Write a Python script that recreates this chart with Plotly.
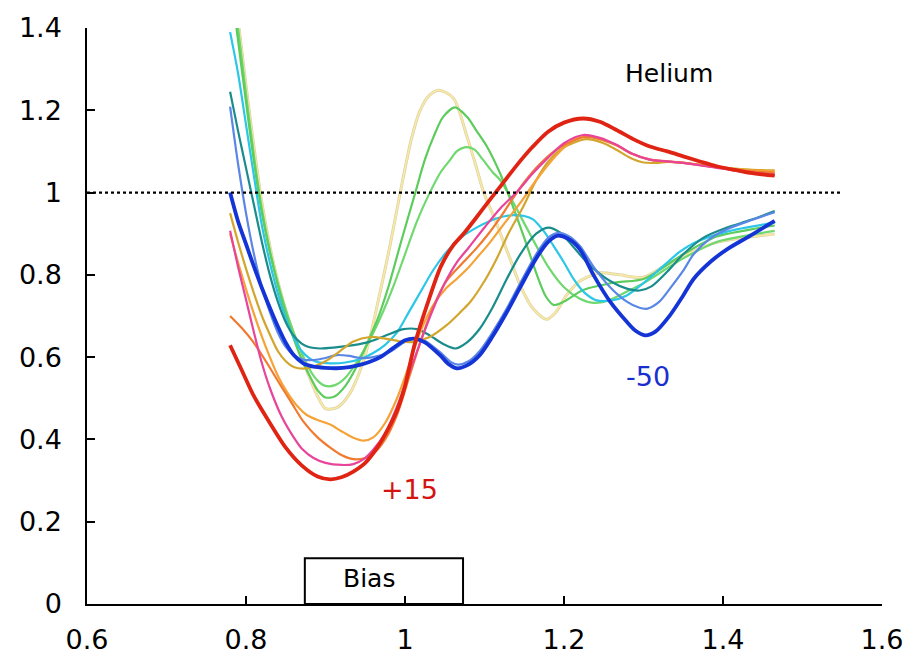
import plotly.graph_objects as go

# ---- data ----
red_x = [0.78, 0.795, 0.81, 0.83, 0.85, 0.87, 0.89, 0.906, 0.92, 0.935, 0.95, 0.965, 0.98, 0.99, 1.0, 1.012, 1.03, 1.045, 1.06, 1.075, 1.09, 1.105, 1.12, 1.14, 1.16, 1.18, 1.2, 1.224, 1.245, 1.266, 1.287, 1.308, 1.33, 1.35, 1.372, 1.392, 1.415, 1.434, 1.465]
red_y = [0.629, 0.567, 0.505, 0.44, 0.38, 0.337, 0.31, 0.303, 0.308, 0.322, 0.343, 0.38, 0.43, 0.47, 0.53, 0.63, 0.74, 0.82, 0.87, 0.903, 0.94, 0.978, 1.015, 1.065, 1.11, 1.148, 1.17, 1.18, 1.172, 1.152, 1.13, 1.112, 1.1, 1.088, 1.075, 1.064, 1.055, 1.048, 1.041]

pink_x = [0.78, 0.79, 0.80, 0.81, 0.82, 0.83, 0.845, 0.86, 0.87, 0.885, 0.90, 0.92, 0.935, 0.948, 0.96, 0.975, 0.99, 1.005, 1.02, 1.035, 1.05, 1.065, 1.08, 1.10, 1.12, 1.14, 1.16, 1.18, 1.2, 1.224, 1.245, 1.266, 1.285, 1.308, 1.33, 1.35, 1.392, 1.434, 1.465]
pink_y = [0.907, 0.82, 0.74, 0.66, 0.585, 0.525, 0.455, 0.405, 0.378, 0.355, 0.343, 0.338, 0.34, 0.352, 0.375, 0.415, 0.48, 0.56, 0.64, 0.715, 0.78, 0.83, 0.866, 0.915, 0.962, 1.0, 1.045, 1.085, 1.12, 1.14, 1.133, 1.116, 1.095, 1.08, 1.076, 1.072, 1.06, 1.049, 1.043]

dorange_x = [0.78, 0.795, 0.809, 0.825, 0.843, 0.857, 0.872, 0.89, 0.906, 0.92, 0.935, 0.95, 0.96, 0.975, 0.99, 1.005, 1.02, 1.035, 1.052, 1.073, 1.09, 1.103, 1.12, 1.132, 1.15, 1.17, 1.195, 1.226, 1.245, 1.266, 1.285, 1.308, 1.33, 1.35, 1.392, 1.434, 1.465]
dorange_y = [0.70, 0.67, 0.637, 0.59, 0.533, 0.49, 0.444, 0.405, 0.38, 0.362, 0.352, 0.355, 0.365, 0.40, 0.46, 0.55, 0.64, 0.72, 0.785, 0.83, 0.865, 0.895, 0.94, 0.975, 1.025, 1.07, 1.11, 1.135, 1.13, 1.115, 1.095, 1.08, 1.075, 1.072, 1.062, 1.052, 1.048]

lorange_x = [0.78, 0.79, 0.80, 0.81, 0.82, 0.83, 0.84, 0.851, 0.865, 0.876, 0.89, 0.906, 0.92, 0.935, 0.948, 0.96, 0.975, 0.99, 1.005, 1.019, 1.035, 1.052, 1.065, 1.078, 1.092, 1.107, 1.125, 1.145, 1.165, 1.19, 1.21, 1.226, 1.245, 1.266, 1.285, 1.308, 1.33, 1.35, 1.392, 1.434, 1.465]
lorange_y = [0.90, 0.83, 0.765, 0.705, 0.65, 0.60, 0.555, 0.517, 0.48, 0.46, 0.447, 0.436, 0.42, 0.404, 0.397, 0.405, 0.44, 0.50, 0.58, 0.66, 0.725, 0.768, 0.79, 0.814, 0.845, 0.879, 0.925, 0.975, 1.03, 1.09, 1.125, 1.137, 1.13, 1.115, 1.095, 1.08, 1.075, 1.072, 1.062, 1.054, 1.052]

gold_x = [0.78, 0.79, 0.80, 0.81, 0.82, 0.83, 0.84, 0.85, 0.86, 0.872, 0.885, 0.90, 0.915, 0.935, 0.956, 0.975, 0.995, 1.01, 1.031, 1.052, 1.07, 1.082, 1.10, 1.115, 1.13, 1.149, 1.165, 1.18, 1.20, 1.228, 1.25, 1.266, 1.285, 1.30, 1.315, 1.335, 1.36, 1.392, 1.434, 1.465]
gold_y = [0.95, 0.88, 0.815, 0.755, 0.70, 0.655, 0.615, 0.59, 0.576, 0.572, 0.577, 0.59, 0.61, 0.638, 0.649, 0.645, 0.638, 0.637, 0.649, 0.677, 0.71, 0.734, 0.785, 0.838, 0.90, 0.967, 1.03, 1.075, 1.11, 1.13, 1.12, 1.104, 1.083, 1.073, 1.072, 1.075, 1.07, 1.062, 1.056, 1.054]

blue_x = [0.78, 0.79, 0.80, 0.81, 0.82, 0.83, 0.84, 0.85, 0.86, 0.872, 0.885, 0.90, 0.914, 0.93, 0.943, 0.955, 0.969, 0.985, 1.0, 1.012, 1.025, 1.044, 1.055, 1.065, 1.078, 1.094, 1.11, 1.128, 1.145, 1.165, 1.18, 1.191, 1.205, 1.22, 1.237, 1.258, 1.279, 1.29, 1.302, 1.315, 1.333, 1.35, 1.363, 1.385, 1.405, 1.434, 1.465]
blue_y = [1.0, 0.93, 0.875, 0.82, 0.768, 0.72, 0.675, 0.635, 0.605, 0.585, 0.577, 0.574, 0.573, 0.576, 0.581, 0.588, 0.60, 0.622, 0.641, 0.645, 0.636, 0.605, 0.583, 0.573, 0.58, 0.605, 0.65, 0.709, 0.77, 0.84, 0.88, 0.895, 0.888, 0.862, 0.80, 0.735, 0.686, 0.664, 0.653, 0.662, 0.701, 0.75, 0.79, 0.833, 0.862, 0.895, 0.931]

cfblue_x = [0.78, 0.79, 0.80, 0.81, 0.82, 0.83, 0.84, 0.85, 0.86, 0.872, 0.885, 0.90, 0.914, 0.93, 0.943, 0.96, 0.98, 0.998, 1.012, 1.025, 1.044, 1.058, 1.067, 1.08, 1.094, 1.11, 1.128, 1.145, 1.165, 1.18, 1.193, 1.205, 1.22, 1.237, 1.258, 1.279, 1.295, 1.305, 1.32, 1.333, 1.35, 1.363, 1.385, 1.405, 1.434, 1.465]
cfblue_y = [1.209, 1.07, 0.95, 0.85, 0.77, 0.71, 0.66, 0.625, 0.605, 0.594, 0.593, 0.598, 0.605, 0.603, 0.598, 0.60, 0.612, 0.635, 0.646, 0.64, 0.612, 0.588, 0.582, 0.59, 0.615, 0.66, 0.718, 0.78, 0.85, 0.89, 0.902, 0.895, 0.87, 0.82, 0.77, 0.735, 0.72, 0.718, 0.735, 0.766, 0.81, 0.85, 0.89, 0.911, 0.932, 0.952]

teal_x = [0.78, 0.79, 0.80, 0.81, 0.82, 0.83, 0.84, 0.85, 0.86, 0.87, 0.88, 0.893, 0.91, 0.935, 0.955, 0.975, 0.998, 1.015, 1.031, 1.048, 1.063, 1.078, 1.094, 1.11, 1.128, 1.145, 1.165, 1.18, 1.195, 1.21, 1.23, 1.258, 1.28, 1.295, 1.31, 1.33, 1.35, 1.375, 1.405, 1.434, 1.465]
teal_y = [1.245, 1.15, 1.06, 0.97, 0.88, 0.80, 0.735, 0.685, 0.652, 0.633, 0.624, 0.621, 0.623, 0.629, 0.637, 0.652, 0.668, 0.668, 0.653, 0.632, 0.621, 0.636, 0.669, 0.72, 0.79, 0.85, 0.90, 0.915, 0.903, 0.872, 0.828, 0.785, 0.766, 0.762, 0.772, 0.808, 0.85, 0.89, 0.915, 0.933, 0.955]

cyan_x = [0.78, 0.79, 0.80, 0.81, 0.82, 0.83, 0.84, 0.85, 0.86, 0.87, 0.88, 0.89, 0.906, 0.925, 0.945, 0.96, 0.975, 0.99, 1.005, 1.02, 1.035, 1.052, 1.07, 1.094, 1.115, 1.136, 1.15, 1.161, 1.175, 1.187, 1.20, 1.212, 1.225, 1.241, 1.26, 1.279, 1.30, 1.321, 1.345, 1.363, 1.405, 1.465]
cyan_y = [1.39, 1.29, 1.165, 1.04, 0.92, 0.83, 0.755, 0.695, 0.648, 0.615, 0.597, 0.588, 0.585, 0.587, 0.596, 0.61, 0.63, 0.66, 0.71, 0.76, 0.81, 0.855, 0.89, 0.919, 0.937, 0.945, 0.943, 0.935, 0.905, 0.87, 0.83, 0.79, 0.758, 0.738, 0.738, 0.75, 0.78, 0.815, 0.855, 0.877, 0.905, 0.927]

greenA_x = [0.78, 0.79, 0.80, 0.81, 0.82, 0.83, 0.84, 0.85, 0.86, 0.87, 0.88, 0.89, 0.90, 0.912, 0.925, 0.94, 0.955, 0.965, 0.979, 0.995, 1.013, 1.025, 1.036, 1.048, 1.063, 1.078, 1.09, 1.103, 1.12, 1.135, 1.15, 1.165, 1.177, 1.187, 1.20, 1.224, 1.266, 1.30, 1.35, 1.392, 1.434, 1.465]
greenA_y = [1.52, 1.37, 1.22, 1.075, 0.95, 0.855, 0.775, 0.705, 0.645, 0.595, 0.555, 0.52, 0.502, 0.505, 0.53, 0.58, 0.645, 0.69, 0.77, 0.88, 1.0, 1.08, 1.136, 1.184, 1.207, 1.184, 1.15, 1.112, 1.045, 0.97, 0.89, 0.805, 0.748, 0.727, 0.735, 0.763, 0.782, 0.79, 0.85, 0.893, 0.91, 0.92]

greenB_x = [0.78, 0.79, 0.80, 0.81, 0.82, 0.83, 0.84, 0.85, 0.86, 0.87, 0.88, 0.89, 0.90, 0.912, 0.925, 0.94, 0.955, 0.97, 0.985, 1.0, 1.015, 1.03, 1.045, 1.057, 1.065, 1.075, 1.087, 1.098, 1.11, 1.12, 1.135, 1.157, 1.18, 1.20, 1.22, 1.237, 1.255, 1.28, 1.30, 1.35, 1.392, 1.434, 1.465]
greenB_y = [1.55, 1.40, 1.24, 1.09, 0.96, 0.86, 0.78, 0.715, 0.66, 0.61, 0.57, 0.543, 0.53, 0.532, 0.55, 0.59, 0.64, 0.70, 0.77, 0.85, 0.93, 0.995, 1.05, 1.08, 1.10, 1.11, 1.105, 1.08, 1.05, 1.03, 0.98, 0.90, 0.82, 0.77, 0.742, 0.732, 0.737, 0.76, 0.78, 0.84, 0.88, 0.897, 0.907]

pale_x = [0.78, 0.79, 0.80, 0.81, 0.82, 0.83, 0.84, 0.85, 0.86, 0.87, 0.88, 0.89, 0.90, 0.915, 0.93, 0.945, 0.955, 0.966, 0.98, 0.994, 1.008, 1.019, 1.031, 1.043, 1.061, 1.078, 1.09, 1.099, 1.111, 1.12, 1.132, 1.145, 1.161, 1.178, 1.19, 1.203, 1.22, 1.245, 1.27, 1.30, 1.325, 1.35, 1.392, 1.434, 1.465]
pale_y = [1.58, 1.42, 1.26, 1.11, 0.975, 0.87, 0.785, 0.715, 0.655, 0.6, 0.55, 0.505, 0.475, 0.478, 0.51, 0.575, 0.64, 0.734, 0.86, 1.0, 1.13, 1.20, 1.237, 1.249, 1.229, 1.136, 1.06, 1.0, 0.945, 0.90, 0.84, 0.774, 0.718, 0.692, 0.71, 0.75, 0.785, 0.805, 0.80, 0.794, 0.82, 0.846, 0.879, 0.892, 0.899]

ref_x = [0.6, 1.55]
ref_y = [1.0, 1.0]

x_ticks = [0.6, 0.8, 1.0, 1.2, 1.4, 1.6]
x_labels = ["0.6", "0.8", "1", "1.2", "1.4", "1.6"]
y_ticks = [0, 0.2, 0.4, 0.6, 0.8, 1.0, 1.2, 1.4]
y_labels = ["0", "0.2", "0.4", "0.6", "0.8", "1", "1.2", "1.4"]

FONT = "DejaVu Sans"

series = [
    (pale_x, pale_y, "#ddd2a4", 3.0),
    (pale_x, pale_y, "#f8e9a6", 1.6),
    (greenB_x, greenB_y, "#6fd86f", 2.2),
    (greenA_x, greenA_y, "#5ccc5c", 2.2),
    (cyan_x, cyan_y, "#2cc6e6", 2.2),
    (teal_x, teal_y, "#1b8c8c", 2.2),
    (cfblue_x, cfblue_y, "#5a86e6", 2.2),
    (gold_x, gold_y, "#d2a62e", 2.2),
    (lorange_x, lorange_y, "#f5a236", 2.2),
    (dorange_x, dorange_y, "#f07a30", 2.2),
    (pink_x, pink_y, "#e8449a", 2.2),
    (blue_x, blue_y, "#1534d6", 3.8),
    (red_x, red_y, "#e02414", 3.8),
]

fig = go.Figure()
for xs, ys, col, w in series:
    fig.add_trace(go.Scatter(x=xs, y=ys, mode="lines",
                             line=dict(color=col, width=w, shape="spline", smoothing=0.8),
                             hoverinfo="skip", showlegend=False))

fig.add_trace(go.Scatter(x=ref_x, y=ref_y, mode="lines",
                         line=dict(color="black", width=2.2, dash="dot"),
                         hoverinfo="skip", showlegend=False))

fig.add_shape(type="rect", x0=0.874, x1=1.073, y0=0, y1=0.111,
              line=dict(color="black", width=2), fillcolor="rgba(0,0,0,0)", layer="above")

fig.add_annotation(x=0.955, y=0.063, text="Bias", showarrow=False,
                   font=dict(family=FONT, size=25, color="black"))
fig.add_annotation(x=1.332, y=1.289, text="Helium", showarrow=False,
                   font=dict(family=FONT, size=25, color="black"))
fig.add_annotation(x=1.006, y=0.278, text="+15", showarrow=False,
                   font=dict(family=FONT, size=27, color="#d41410"))
fig.add_annotation(x=1.306, y=0.553, text="-50", showarrow=False,
                   font=dict(family=FONT, size=27, color="#1a2ed0"))

fig.update_layout(
    width=920, height=670,
    margin=dict(l=87, r=38, t=24, b=66),
    paper_bgcolor="white", plot_bgcolor="white",
    font=dict(family=FONT, size=27, color="black"),
)
fig.update_xaxes(range=[0.6, 1.6], tickvals=x_ticks, ticktext=x_labels,
                 showgrid=False, zeroline=False, showline=True, linecolor="black", linewidth=1.5,
                 ticks="inside", ticklen=8, tickcolor="black", tickwidth=1.5,
                 ticklabelstandoff=11, tickfont=dict(family=FONT, size=27))
fig.update_yaxes(range=[0, 1.4], tickvals=y_ticks, ticktext=y_labels,
                 showgrid=False, zeroline=False, showline=True, linecolor="black", linewidth=1.5,
                 ticks="inside", ticklen=8, tickcolor="black", tickwidth=1.5,
                 ticklabelstandoff=18, tickfont=dict(family=FONT, size=27))

fig.write_html("out.html")
